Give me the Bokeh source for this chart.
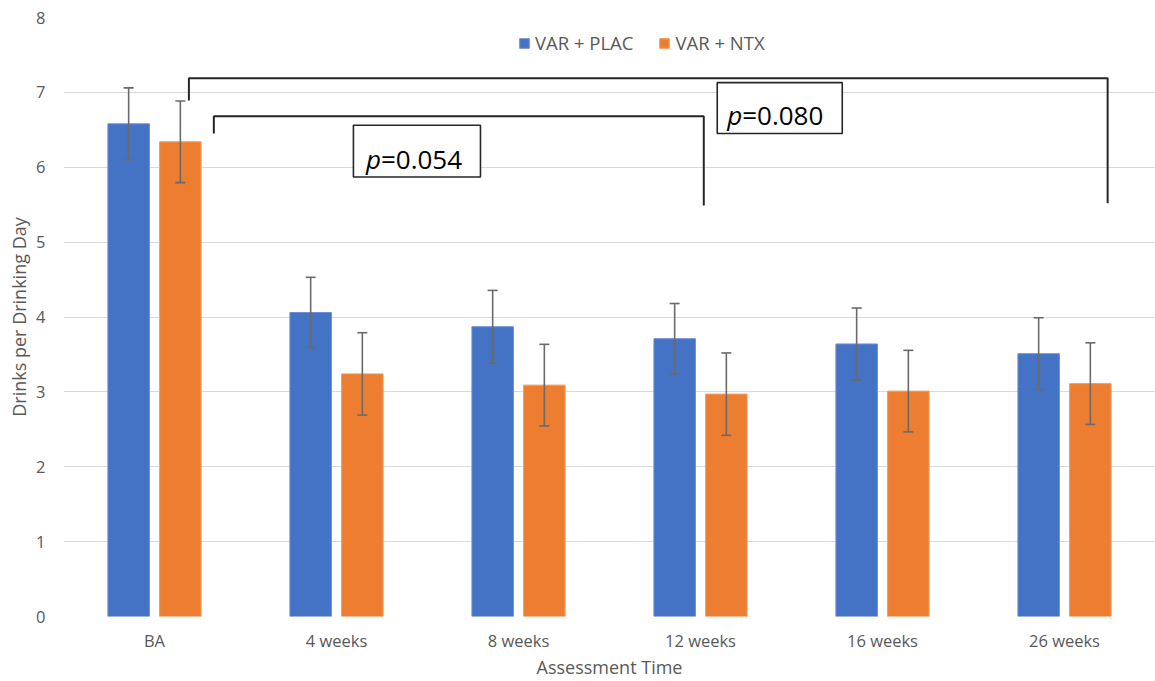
from bokeh.plotting import figure
from bokeh.models import (Range1d, FixedTicker, ColumnDataSource, Whisker, TeeHead,
                          Legend, LegendItem)
from bokeh.core.properties import value
from bokeh.embed import file_html
from bokeh.resources import INLINE

# ---- data -------------------------------------------------------------
categories = ["BA", "4 weeks", "8 weeks", "12 weeks", "16 weeks", "26 weeks"]
series_names = ["VAR + PLAC", "VAR + NTX"]
plac_mean = [6.58, 4.06, 3.87, 3.71, 3.64, 3.51]
plac_err = [0.48, 0.47, 0.485, 0.47, 0.48, 0.48]
ntx_mean = [6.34, 3.24, 3.09, 2.97, 3.01, 3.11]
ntx_err = [0.545, 0.55, 0.545, 0.55, 0.545, 0.545]
y_ticks = [0, 1, 2, 3, 4, 5, 6, 7, 8]
x_title = "Assessment Time"
y_title = "Drinks per Drinking Day"
p_values = ["0.054", "0.080"]
# comparisons: (from category, to category)
comparisons = [("BA", "12 weeks"), ("BA", "26 weeks")]

# ---- style ------------------------------------------------------------
FONT = "Open Sans"
BLUE = "#4472C4"
ORANGE = "#ED7D31"
GREY_TXT = "#595959"
ERR = "#6a6a6a"

idx = list(range(len(categories)))
off = 0.142
bw = 0.228

p = figure(width=1155, height=681, output_backend="svg", toolbar_location=None,
           x_range=Range1d(-0.5, len(categories) - 0.5), y_range=Range1d(0, 8),
           min_border_left=63, min_border_right=0, min_border_top=17,
           min_border_bottom=64)
p.outline_line_color = None
p.background_fill_color = "white"

# axes
p.xaxis.ticker = FixedTicker(ticks=idx)
p.xaxis.major_label_overrides = {i: c for i, c in zip(idx, categories)}
p.yaxis.ticker = FixedTicker(ticks=y_ticks)
for ax in (p.xaxis[0], p.yaxis[0]):
    ax.axis_line_color = None
    ax.major_tick_line_color = None
    ax.minor_tick_line_color = None
    ax.major_label_text_font = FONT
    ax.major_label_text_font_size = "16.5px"
    ax.major_label_text_color = GREY_TXT
    ax.axis_label_text_font = FONT
    ax.axis_label_text_font_size = "18px"
    ax.axis_label_text_font_style = "normal"
    ax.axis_label_text_color = GREY_TXT
p.xaxis.axis_label = x_title
p.yaxis.axis_label = y_title
p.xaxis.major_label_standoff = 6
p.xaxis.axis_label_standoff = 0
p.yaxis.major_label_standoff = 12
p.yaxis.axis_label_standoff = 2

p.xgrid.grid_line_color = None
p.ygrid.grid_line_color = "#d9d9d9"
p.ygrid.grid_line_width = 1

# bars
xb = [i - off for i in idx]
xo = [i + off for i in idx]
r_b = p.vbar(x=xb, top=plac_mean, width=bw, fill_color=BLUE, line_color="#6a8fd3", line_width=1)
r_o = p.vbar(x=xo, top=ntx_mean, width=bw, fill_color=ORANGE, line_color="#f29a5e", line_width=1)

# error bars
src_b = ColumnDataSource(dict(x=xb, up=[m + e for m, e in zip(plac_mean, plac_err)],
                              lo=[m - e for m, e in zip(plac_mean, plac_err)]))
src_o = ColumnDataSource(dict(x=xo, up=[m + e for m, e in zip(ntx_mean, ntx_err)],
                              lo=[m - e for m, e in zip(ntx_mean, ntx_err)]))
for src in (src_b, src_o):
    w = Whisker(base="x", upper="up", lower="lo", source=src, dimension="height",
                line_color=ERR, line_width=1.6, level="overlay",
                upper_head=TeeHead(size=10, line_color=ERR, line_width=1.6),
                lower_head=TeeHead(size=10, line_color=ERR, line_width=1.6))
    p.add_layout(w)

# brackets (comparison lines)
ci = {c: i for i, c in enumerate(categories)}
brackets = [
    # (start offset, end offset, left foot y, top y, right foot y)
    (0.326, 0.018, 6.45, 6.68, 5.49),
    (0.189, 0.237, 6.89, 7.19, 5.52),
]
for (a, b), (oa, ob, yl, yt, yr) in zip(comparisons, brackets):
    x0 = ci[a] + oa
    x1 = ci[b] + ob
    p.line([x0, x0, x1, x1], [yl, yt, yt, yr], line_color="#262626", line_width=2)

# p-value boxes
boxes = [
    # left, right, bottom, top, text x junction, baseline
    (1.093, 1.791, 5.87, 6.56, 1.244, 6.107),
    (3.092, 3.779, 6.45, 7.13, 3.229, 6.693),
]
for pv, (l, r, b, t, xj, yb) in zip(p_values, boxes):
    p.quad(left=[l], right=[r], bottom=[b], top=[t], fill_color="white",
           line_color="#262626", line_width=1.6)
    p.text(x=[xj], y=[yb], text=["p"], text_font=value(FONT), text_font_style="italic",
           text_font_size="26px", text_align="right", text_baseline="alphabetic",
           text_color="black")
    p.text(x=[xj], y=[yb], text=["=" + pv], text_font=value(FONT),
           text_font_size="26px", text_align="left", text_baseline="alphabetic",
           text_color="black")

# legend
legend = Legend(items=[LegendItem(label=series_names[0], renderers=[r_b]),
                       LegendItem(label=series_names[1], renderers=[r_o])],
                orientation="horizontal", location=(455, 561),
                border_line_color=None, background_fill_alpha=0,
                padding=0, margin=0, spacing=25, label_standoff=5,
                glyph_width=12, glyph_height=12, label_height=12,
                label_text_font=FONT, label_text_font_size="18.5px",
                label_text_color=GREY_TXT)
p.add_layout(legend)

open("out.html", "w").write(file_html(p, INLINE))
